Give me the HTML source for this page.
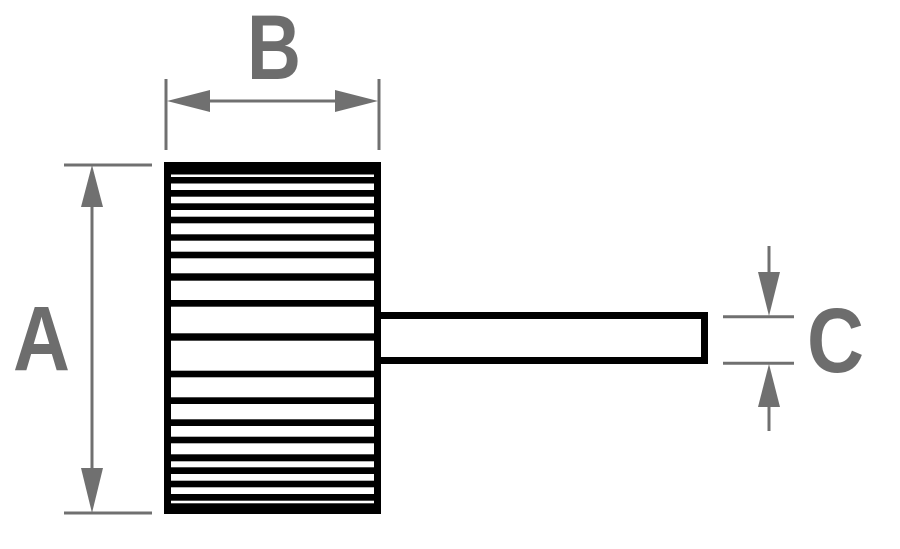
<!DOCTYPE html>
<html><head><style>html,body{margin:0;padding:0;background:#fff}</style></head>
<body>
<svg width="900" height="544" viewBox="0 0 900 544" xmlns="http://www.w3.org/2000/svg">
<rect width="900" height="544" fill="#fff"/>
<rect x="164" y="162" width="217" height="352" fill="#000"/>
<g fill="#fff">
<rect x="171" y="174.5" width="203" height="2.5"/>
<rect x="171" y="183.5" width="203" height="6.5"/>
<rect x="171" y="196.7" width="203" height="6.6"/>
<rect x="171" y="210" width="203" height="6.7"/>
<rect x="171" y="223.3" width="203" height="11"/>
<rect x="171" y="240.7" width="203" height="11"/>
<rect x="171" y="258.3" width="203" height="15"/>
<rect x="171" y="280.7" width="203" height="19.3"/>
<rect x="171" y="306.7" width="203" height="26.6"/>
<rect x="171" y="340.7" width="203" height="30"/>
<rect x="171" y="377.3" width="203" height="20"/>
<rect x="171" y="404" width="203" height="15.3"/>
<rect x="171" y="426" width="203" height="10.7"/>
<rect x="171" y="443.3" width="203" height="11"/>
<rect x="171" y="461.3" width="203" height="6"/>
<rect x="171" y="474" width="203" height="6.7"/>
<rect x="171" y="487.3" width="203" height="6.7"/>
<rect x="171" y="500.7" width="203" height="2.6"/>
</g>
<rect x="377.5" y="315.5" width="327" height="45" fill="#fff" stroke="#000" stroke-width="7"/>
<g stroke="#707070" stroke-width="3" fill="#707070">
<line x1="64" y1="165" x2="152" y2="165"/>
<line x1="64" y1="513" x2="152" y2="513"/>
<line x1="92" y1="190" x2="92" y2="490"/>
<polygon stroke="none" points="92,165 81,207 103,207"/>
<polygon stroke="none" points="92,513 81,468 103,468"/>
<line x1="166" y1="79" x2="166" y2="150"/>
<line x1="379" y1="79" x2="379" y2="150"/>
<line x1="190" y1="101" x2="355" y2="101"/>
<polygon stroke="none" points="167,101 210,90 210,112"/>
<polygon stroke="none" points="378,101 335,90 335,112"/>
<line x1="723" y1="316.7" x2="794" y2="316.7"/>
<line x1="723" y1="363.3" x2="794" y2="363.3"/>
<line x1="769" y1="246" x2="769" y2="280"/>
<line x1="769" y1="400" x2="769" y2="431"/>
<polygon stroke="none" points="769,316 758,272 780,272"/>
<polygon stroke="none" points="769,364 758,407 780,407"/>
</g>
<g font-family="Liberation Sans, sans-serif" font-weight="bold" fill="#6d6d6d" font-size="92">
<text x="13" y="370" textLength="57" lengthAdjust="spacingAndGlyphs">A</text>
<text x="247" y="79" textLength="54" lengthAdjust="spacingAndGlyphs">B</text>
<text x="807" y="372" textLength="57" lengthAdjust="spacingAndGlyphs">C</text>
</g>
</svg>
</body></html>
